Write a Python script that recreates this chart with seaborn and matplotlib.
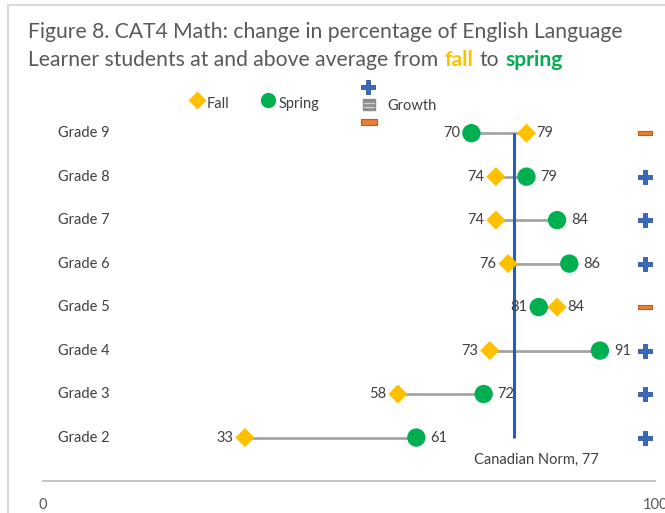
import seaborn as sns
import matplotlib.pyplot as plt
import numpy as np
import pandas as pd
from matplotlib.lines import Line2D
from matplotlib.patches import Rectangle

# data
grades = ['Grade 9', 'Grade 8', 'Grade 7', 'Grade 6', 'Grade 5', 'Grade 4', 'Grade 3', 'Grade 2']
fall = [79, 74, 74, 76, 84, 73, 58, 33]
spring = [70, 79, 84, 86, 81, 91, 72, 61]
norm = 77

df = pd.DataFrame({'grade': grades, 'fall': fall, 'spring': spring})
df['y'] = np.arange(len(df))[::-1] + 1
df['growth'] = np.where(df['spring'] >= df['fall'], '+', '-')

sns.set_theme(style='white')
plt.rcParams['font.family'] = ['Lato', 'DejaVu Sans']

GRAY = '#595959'
TXT = '#404040'
FALLC = '#FFC000'
SPRC = '#00B050'
BLUE = '#1F5FBF'

W, H = 665, 513
fig = plt.figure(figsize=(6.65, 5.13), dpi=100)
ax = fig.add_axes([43 / W, 1 - 481 / H, 612 / W, (481 - 81) / H])
ax.set_xlim(0, 100)
ax.set_ylim(0, 9.2)

# connectors + norm line
ax.hlines(df['y'], df['fall'], df['spring'], color='#A5A5A5', lw=2, zorder=1)
ax.vlines(norm, 1, 8, color=BLUE, lw=2.2, zorder=2)

sns.scatterplot(data=df, x='fall', y='y', marker='D', s=95, color=FALLC,
                edgecolor='none', ax=ax, zorder=3, legend=False)
sns.scatterplot(data=df, x='spring', y='y', marker='o', s=175, color=SPRC,
                edgecolor='none', ax=ax, zorder=3, legend=False)

# growth markers
minus = [(-1, -0.33), (1, -0.33), (1, 0.33), (-1, 0.33), (-1, -0.33)]
up = df[df['growth'] == '+']
dn = df[df['growth'] == '-']
ax.scatter(np.full(len(up), 98.4), up['y'], marker='P', s=100, color='#3A68BA',
           edgecolor='#2F5597', lw=0.6, zorder=3, clip_on=False)
ax.scatter(np.full(len(dn), 98.4), dn['y'], marker=minus, s=110, color='#ED7D31',
           edgecolor='#C55A11', lw=0.8, zorder=3, clip_on=False)

# data labels
for _, row in df.iterrows():
    f_right = row['fall'] > row['spring']
    ax.annotate(str(row['fall']), (row['fall'], row['y']),
                xytext=(7 if f_right else -8.5, 0), textcoords='offset points',
                ha='left' if f_right else 'right', va='center', fontsize=10.5, color=TXT)
    ax.annotate(str(row['spring']), (row['spring'], row['y']),
                xytext=(-8 if f_right else 10, 0), textcoords='offset points',
                ha='right' if f_right else 'left', va='center', fontsize=10.5, color=TXT)
    ax.text(2.5, row['y'], row['grade'], ha='left', va='center', fontsize=10.5, color=TXT)

ax.text(70.5, 0.48, 'Canadian Norm, 77', ha='left', va='center', fontsize=10.5, color=TXT)

# axis
sns.despine(ax=ax, left=True)
ax.spines['bottom'].set_color('#BFBFBF')
ax.spines['bottom'].set_linewidth(1.3)
ax.set_xticks([0, 100])
ax.set_yticks([])
ax.tick_params(axis='x', length=0, pad=12, labelsize=10.5, labelcolor=GRAY)
ax.set_xlabel('')
ax.set_ylabel('')

# title
fx = lambda px: px / W
fy = lambda py: 1 - py / H
TS = 15.2
fig.text(fx(28), fy(38), 'Figure 8. CAT4 Math: change in percentage of English Language',
         fontsize=TS, color=GRAY, va='baseline')
r = fig.canvas.get_renderer()


def wpx(s, **kw):
    t = fig.text(0, 0, s, **kw)
    w = t.get_window_extent(r).width
    t.remove()
    return w


pieces = [('Learner students at and above average from', GRAY, 'normal'),
          ('fall', FALLC, 'bold'), ('to', GRAY, 'normal'), ('spring', SPRC, 'bold')]
sp = wpx('x x', fontsize=TS) - wpx('xx', fontsize=TS)
cx = 28
for s, c, wt in pieces:
    fig.text(fx(cx), fy(66), s, fontsize=TS, color=c, weight=wt, va='baseline')
    cx += wpx(s, fontsize=TS, weight=wt) + sp * 1.15

# legend
fig.add_artist(Line2D([fx(197)], [fy(100)], marker='D', ms=9, color=FALLC, mec='none',
                      transform=fig.transFigure))
fig.text(fx(207), fy(104), 'Fall', fontsize=10.5, color=TXT, va='center')
fig.add_artist(Line2D([fx(268)], [fy(100)], marker='o', ms=11, color=SPRC, mec='none',
                      transform=fig.transFigure))
fig.text(fx(279), fy(104), 'Spring', fontsize=10.5, color=TXT, va='center')
fig.add_artist(Line2D([fx(368)], [fy(87)], marker='P', ms=10, color='#3A68BA', mec='#2F5597',
                      mew=0.6, transform=fig.transFigure))
fig.add_artist(Rectangle((fx(363), fy(110)), 12 / W, 11 / H, color='#8C8C8C',
                         transform=fig.transFigure))
for yy in (102.5, 106.5):
    fig.add_artist(Line2D([fx(364), fx(374)], [fy(yy), fy(yy)], color='#D0D0D0', lw=1,
                          transform=fig.transFigure))
fig.add_artist(Line2D([fx(369)], [fy(122)], marker=minus, ms=11, color='#ED7D31', mec='#C55A11',
                      mew=0.8, transform=fig.transFigure))
fig.text(fx(387), fy(106), 'Growth', fontsize=10.5, color=TXT, va='center')

# chart frame
fig.add_artist(Rectangle((fx(8), -0.1), 1.2, fy(5) + 0.1, fill=False, edgecolor='#D9D9D9',
                         lw=1.5, transform=fig.transFigure))

fig.savefig('out.png', dpi=100)
